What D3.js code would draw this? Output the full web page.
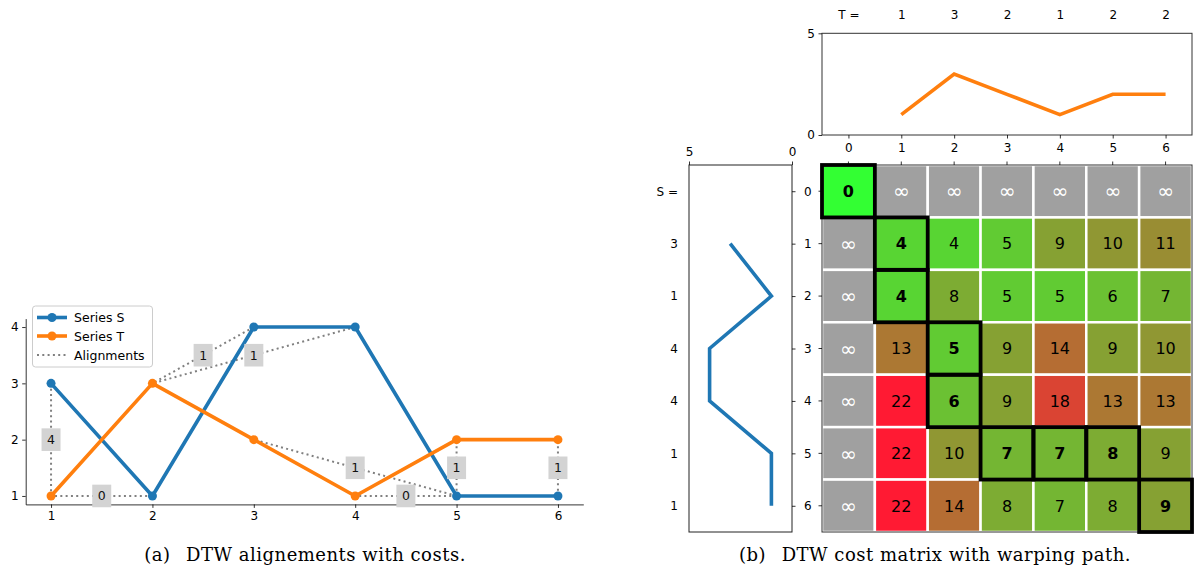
<!DOCTYPE html>
<html>
<head>
<meta charset="utf-8">
<script src="https://cdn.jsdelivr.net/npm/d3@7"></script>
<style>
  html, body { margin: 0; padding: 0; background: #fff; }
  svg { display: block; }
  text { font-family: "DejaVu Sans", sans-serif; }
  .caption { font-family: "DejaVu Serif", "Liberation Serif", serif; }
</style>
</head>
<body>
<svg id="chart" width="1196" height="570"></svg>
<script>
// ---------- DATA ----------
const indexes = [1, 2, 3, 4, 5, 6];
const seriesS = [3, 1, 4, 4, 1, 1];
const seriesT = [1, 3, 2, 1, 2, 2];
const yTicksA = [1, 2, 3, 4];
// warping path cells [row (S index), col (T index)]
const warpPath = [[0,0],[1,1],[2,1],[3,2],[4,2],[5,3],[5,4],[5,5],[6,6]];
// alignment costs for path steps after (0,0)
const alignCosts = [4, 0, 1, 1, 1, 0, 1, 1];
const INF = Infinity;
const costRows = [
  [0, INF, INF, INF, INF, INF, INF],
  [INF, 4, 4, 5, 9, 10, 11],
  [INF, 4, 8, 5, 5, 6, 7],
  [INF, 13, 5, 9, 14, 9, 10],
  [INF, 22, 6, 9, 18, 13, 13],
  [INF, 22, 10, 7, 7, 8, 9],
  [INF, 22, 14, 8, 7, 8, 9]
];
const legendLabels = ["Series S", "Series T", "Alignments"];
const captionA = "(a)\u2002 DTW alignements with costs.";
const captionB = "(b)\u2002 DTW cost matrix with warping path.";

const blue = "#1f77b4", orange = "#ff7f0e";
const svg = d3.select("#chart");

// ================= (a) alignments chart =================
const xA = d3.scaleLinear().domain([0.75, 6.25]).range([25.7, 583.3]);
const yA = d3.scaleLinear().domain([0.85, 4.15]).range([504.4, 318.6]);
const gA = svg.append("g");

const axB = gA.append("g").attr("transform", `translate(0,${yA(0.85)})`)
  .call(d3.axisBottom(xA).tickValues(indexes).tickSize(3.5).tickSizeOuter(0).tickPadding(3.5).tickFormat(d3.format("d")));
const axL = gA.append("g").attr("transform", `translate(${xA(0.75)},0)`)
  .call(d3.axisLeft(yA).tickValues(yTicksA).tickSize(3.5).tickSizeOuter(0).tickPadding(3.5).tickFormat(d3.format("d")));
[axB, axL].forEach(a => {
  a.selectAll("text").attr("font-size", 12).attr("font-family", "DejaVu Sans").attr("fill", "#000");
  a.selectAll("line").attr("stroke", "#000").attr("stroke-width", 0.8);
  a.select(".domain").attr("stroke", "#000").attr("stroke-width", 0.8);
});

// alignment lines
const aligns = warpPath.slice(1).map((p, k) => ({
  x1: p[0], y1: seriesS[p[0]-1], x2: p[1], y2: seriesT[p[1]-1], cost: alignCosts[k]
}));
gA.append("g").selectAll("line").data(aligns).join("line")
  .attr("x1", d => xA(d.x1)).attr("y1", d => yA(d.y1))
  .attr("x2", d => xA(d.x2)).attr("y2", d => yA(d.y2))
  .attr("stroke", "#808080").attr("stroke-width", 2)
  .attr("stroke-dasharray", "2,3.3");

const lineA = d3.line().x((d, i) => xA(indexes[i])).y(d => yA(d));
[[seriesS, blue], [seriesT, orange]].forEach(([vals, col]) => {
  gA.append("path").datum(vals).attr("d", lineA)
    .attr("fill", "none").attr("stroke", col).attr("stroke-width", 3.6)
    .attr("stroke-linejoin", "round").attr("stroke-linecap", "butt");
  gA.append("g").selectAll("circle").data(vals).join("circle")
    .attr("cx", (d, i) => xA(indexes[i])).attr("cy", d => yA(d)).attr("r", 4.5)
    .attr("fill", col);
});

// cost labels
const lab = gA.append("g").selectAll("g").data(aligns).join("g")
  .attr("transform", d => `translate(${xA((d.x1 + d.x2)/2)},${yA((d.y1 + d.y2)/2)})`);
lab.append("rect").attr("x", -9.5).attr("y", -11.3).attr("width", 19).attr("height", 22.6)
  .attr("fill", "#d3d3d3");
lab.append("text").text(d => d.cost).attr("text-anchor", "middle").attr("dy", "0.36em")
  .attr("font-size", 12.5).attr("fill", "#111");

// legend
const lg = gA.append("g");
lg.append("rect").attr("x", 32.5).attr("y", 306).attr("width", 120).attr("height", 61)
  .attr("rx", 3).attr("fill", "#fff").attr("fill-opacity", 0.8).attr("stroke", "#ccc").attr("stroke-width", 1);
const legYs = [317.5, 336, 355];
const legStyles = [{c: blue, w: 3.6, dash: null, m: true}, {c: orange, w: 3.6, dash: null, m: true}, {c: "#808080", w: 2, dash: "2,3.3", m: false}];
legendLabels.forEach((t, i) => {
  const s = legStyles[i];
  lg.append("line").attr("x1", 37).attr("x2", 67).attr("y1", legYs[i]).attr("y2", legYs[i])
    .attr("stroke", s.c).attr("stroke-width", s.w).attr("stroke-dasharray", s.dash);
  if (s.m) lg.append("circle").attr("cx", 52).attr("cy", legYs[i]).attr("r", 4.5).attr("fill", s.c);
  lg.append("text").attr("x", 74).attr("y", legYs[i]).attr("dy", "0.36em").attr("font-size", 12.5).text(t);
});

// ================= (b) cost matrix =================
const mx0 = 822, mx1 = 1192, my0 = 165, my1 = 532;
const xM = d3.scaleBand().domain(d3.range(7)).range([mx0, mx1]);
const yM = d3.scaleBand().domain(d3.range(7)).range([my0, my1]);
const finiteMax = d3.max(costRows.flat().filter(v => isFinite(v)));
const colorM = d3.scaleLinear().domain([0, finiteMax]).range(["#33ff33", "#ff1a33"]).interpolate(d3.interpolateRgb);

const cells = [];
costRows.forEach((row, r) => row.forEach((v, c) => cells.push({r, c, v})));
const onPath = new Set(warpPath.map(p => p[0] + "_" + p[1]));

const gM = svg.append("g");
gM.selectAll("rect.cell").data(cells).join("rect").attr("class", "cell")
  .attr("x", d => xM(d.c)).attr("y", d => yM(d.r))
  .attr("width", xM.bandwidth()).attr("height", yM.bandwidth())
  .attr("fill", d => isFinite(d.v) ? colorM(d.v) : "#a0a0a0")
  .attr("stroke", "#fff").attr("stroke-width", 2.5);
gM.selectAll("text.cell").data(cells).join("text").attr("class", "cell")
  .attr("x", d => xM(d.c) + xM.bandwidth()/2).attr("y", d => yM(d.r) + yM.bandwidth()/2)
  .attr("dy", "0.36em").attr("text-anchor", "middle")
  .attr("font-size", d => isFinite(d.v) ? 16 : 20)
  .attr("font-weight", d => onPath.has(d.r + "_" + d.c) ? "bold" : "normal")
  .attr("fill", d => isFinite(d.v) ? "#000" : "#fff")
  .text(d => isFinite(d.v) ? d.v : "\u221e");
// frame
gM.append("rect").attr("x", mx0).attr("y", my0).attr("width", mx1 - mx0).attr("height", my1 - my0)
  .attr("fill", "none").attr("stroke", "#333").attr("stroke-width", 1);
// path borders
gM.selectAll("rect.path").data(warpPath).join("rect").attr("class", "path")
  .attr("x", d => xM(d[1])).attr("y", d => yM(d[0]))
  .attr("width", xM.bandwidth()).attr("height", yM.bandwidth())
  .attr("fill", "none").attr("stroke", "#000").attr("stroke-width", 3.8);

// matrix ticks
const idx7 = d3.range(7);
gM.selectAll("line.tt").data(idx7).join("line").attr("class", "tt")
  .attr("x1", d => xM(d) + xM.bandwidth()/2).attr("x2", d => xM(d) + xM.bandwidth()/2)
  .attr("y1", my0).attr("y2", my0 - 3.5).attr("stroke", "#000").attr("stroke-width", 0.8);
gM.selectAll("line.lt").data(idx7).join("line").attr("class", "lt")
  .attr("y1", d => yM(d) + yM.bandwidth()/2).attr("y2", d => yM(d) + yM.bandwidth()/2)
  .attr("x1", mx0).attr("x2", mx0 - 3.5).attr("stroke", "#000").attr("stroke-width", 0.8);

// ---- top chart: T ----
const xT = d3.scaleLinear().domain([-0.5, 6.5]).range([mx0, mx1]);
const yT = d3.scaleLinear().domain([0, 5]).range([135, 33.3]);
const gT = svg.append("g");
gT.append("rect").attr("x", mx0).attr("y", yT(5)).attr("width", mx1 - mx0).attr("height", yT(0) - yT(5))
  .attr("fill", "none").attr("stroke", "#333").attr("stroke-width", 1);
const tb = gT.append("g").attr("transform", `translate(0,${yT(0)})`)
  .call(d3.axisBottom(xT).tickValues(idx7).tickSize(3.5).tickSizeOuter(0).tickPadding(5).tickFormat(d3.format("d")));
const tl = gT.append("g").attr("transform", `translate(${mx0},0)`)
  .call(d3.axisLeft(yT).tickValues([0, 5]).tickSize(3.5).tickSizeOuter(0).tickPadding(3.5).tickFormat(d3.format("d")));
const tt = gT.append("g").attr("transform", `translate(0,${yT(5)})`)
  .call(d3.axisTop(xT).tickValues(idx7).tickSize(0).tickSizeOuter(0).tickPadding(14)
    .tickFormat(d => d === 0 ? "T =" : String(seriesT[d-1])));
[tb, tl, tt].forEach(a => {
  a.select(".domain").remove();
  a.selectAll("text").attr("font-size", 12).attr("font-family", "DejaVu Sans").attr("fill", "#000");
  a.selectAll("line").attr("stroke", "#000").attr("stroke-width", 0.8);
});
gT.append("path").datum(seriesT)
  .attr("d", d3.line().x((d, i) => xT(indexes[i])).y(d => yT(d)))
  .attr("fill", "none").attr("stroke", orange).attr("stroke-width", 3.6).attr("stroke-linejoin", "miter");

// ---- left chart: S ----
const yS = d3.scaleLinear().domain([-0.5, 6.5]).range([my0, my1]);
const xS = d3.scaleLinear().domain([5, 0]).range([689, 792]);
const gS = svg.append("g");
gS.append("rect").attr("x", xS(5)).attr("y", my0).attr("width", xS(0) - xS(5)).attr("height", my1 - my0)
  .attr("fill", "none").attr("stroke", "#222").attr("stroke-width", 1);
const sTop = gS.append("g").attr("transform", `translate(0,${my0})`)
  .call(d3.axisTop(xS).tickValues([5, 0]).tickSize(3.5).tickSizeOuter(0).tickPadding(6).tickFormat(d3.format("d")));
const sRight = gS.append("g").attr("transform", `translate(${xS(0)},0)`)
  .call(d3.axisRight(yS).tickValues(idx7).tickSize(3.5).tickSizeOuter(0).tickPadding(8.5).tickFormat(d3.format("d")));
const sLeft = gS.append("g").attr("transform", `translate(${xS(5)},0)`)
  .call(d3.axisLeft(yS).tickValues(idx7).tickSize(0).tickSizeOuter(0).tickPadding(11)
    .tickFormat(d => d === 0 ? "S =" : String(seriesS[d-1])));
[sTop, sRight, sLeft].forEach(a => {
  a.select(".domain").remove();
  a.selectAll("text").attr("font-size", 12).attr("font-family", "DejaVu Sans").attr("fill", "#000");
  a.selectAll("line").attr("stroke", "#000").attr("stroke-width", 0.8);
});
gS.append("path").datum(seriesS)
  .attr("d", d3.line().x(d => xS(d)).y((d, i) => yS(indexes[i])))
  .attr("fill", "none").attr("stroke", blue).attr("stroke-width", 3.6).attr("stroke-linejoin", "miter");

// ---------- captions ----------
svg.append("text").attr("class", "caption").attr("x", 305).attr("y", 561)
  .attr("text-anchor", "middle").attr("font-size", 18).attr("letter-spacing", 0.5).text(captionA);
svg.append("text").attr("class", "caption").attr("x", 935).attr("y", 561)
  .attr("text-anchor", "middle").attr("font-size", 18).attr("letter-spacing", 0.5).text(captionB);
</script>
</body>
</html>
